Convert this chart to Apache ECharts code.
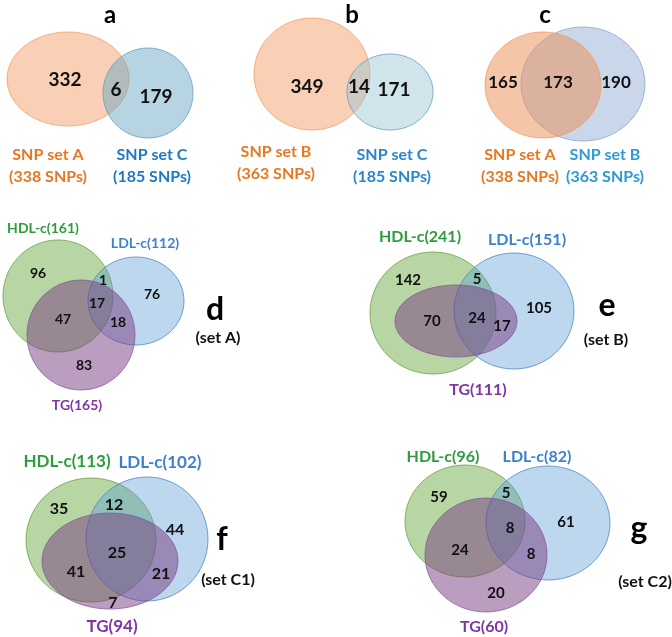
<!DOCTYPE html>
<html><head><meta charset="utf-8">
<script src="https://cdn.jsdelivr.net/npm/echarts@6/dist/echarts.min.js"></script>
<style>html,body{margin:0;padding:0;background:#fff}#c{width:672px;height:637px}</style>
</head><body><div id="c"></div>
<script>
// ---------- DATA ----------
// Two-set panels: [onlyFirst, both, onlySecond]
const aSetNames = ['SNP set A', 'SNP set C'];
const aSetSizes = [338, 185];
const aCounts = [332, 6, 179];

const bSetNames = ['SNP set B', 'SNP set C'];
const bSetSizes = [363, 185];
const bCounts = [349, 14, 171];

const cSetNames = ['SNP set A', 'SNP set B'];
const cSetSizes = [338, 363];
const cCounts = [165, 173, 190];

// Three-set panels: traits
const traitNames = ['HDL-c', 'LDL-c', 'TG'];
// region order: [H only, L only, T only, H&L, H&T, L&T, H&L&T]
const dTraitSizes = [161, 112, 165];
const dCounts = [96, 76, 83, 1, 47, 18, 17];
const eTraitSizes = [241, 151, 111];
const eCounts = [142, 105, null, 5, 70, 17, 24];
const fTraitSizes = [113, 102, 94];
const fCounts = [35, 44, 7, 12, 41, 21, 25];
const gTraitSizes = [96, 82, 60];
const gCounts = [59, 61, 20, 5, 24, 8, 8];

const panelLetters = ['a', 'b', 'c', 'd', 'e', 'f', 'g'];
const panelSubtitles = ['(set A)', '(set B)', '(set C1)', '(set C2)'];

// ---------- LAYOUT (pixel-space positions / sizes) ----------
// shapes: [cx, cy, rx, ry]
const aShapes = [[68, 79, 61, 47], [148, 93, 45, 45]];
const bShapes = [[312, 74, 58, 56], [390, 92, 43, 38]];
const cShapes = [[583, 84, 62, 57], [543, 85, 58, 53]]; // blue drawn first, orange on top
const dShapes = [[58, 296, 55, 56], [136, 301, 48, 44], [81, 335, 54, 55]];
const eShapes = [[433, 313, 63, 61], [514, 311, 60, 58], [456, 321, 61, 36]];
const fShapes = [[91, 540, 65, 62], [147, 539, 61, 62], [110, 561, 68, 48]];
const gShapes = [[465, 521, 60, 56], [548, 523, 62, 57], [486, 555, 61, 57]];

const aCountPos = [[65, 80], [116, 90], [156, 97]];
const bCountPos = [[307, 87], [359, 87], [394, 90]];
const cCountPos = [[503, 83], [558, 83], [616, 83]];
const dCountPos = [[38, 273], [152, 294], [84, 365], [103, 280], [63, 319], [118, 322], [97, 303]];
const eCountPos = [[408, 280], [539, 308], null, [477, 279], [432, 321], [502, 326], [477, 318]];
const fCountPos = [[59, 509], [175, 530], [113, 603], [114, 505], [76, 572], [161, 574], [117, 553]];
const gCountPos = [[439, 497], [566, 522], [496, 593], [506, 493], [460, 550], [531, 554], [510, 528]];

const twoLabelPos = [
  [[48, 155], [152, 155]],
  [[276, 152], [392, 155]],
  [[520, 155], [605, 155]]
];
const threeLabelPos = [
  [[43, 228], [145, 243], [77, 405]],
  [[420, 237], [527, 240], [478, 390]],
  [[67, 462], [160, 463], [112, 627]],
  [[443, 457], [537, 457], [484, 627]]
];
const letterPos = [[110, 15], [352, 15], [545, 15], [215, 310], [607, 306], [222, 540], [639, 529]];
const subtitlePos = [[218, 338], [606, 340], [228, 580], [645, 582]];

// ---------- STYLES ----------
const FONT = 'Lato, "Open Sans", sans-serif';
const orangeFill = 'rgba(244,170,120,0.55)', orangeStroke = 'rgba(240,150,90,0.7)';
const greenFill = 'rgba(112,173,71,0.5)', greenStroke = 'rgba(112,160,71,0.8)';
const blueFill = 'rgba(91,155,213,0.4)', blueStroke = 'rgba(70,130,200,0.75)';
const purpleFill = 'rgba(120,60,130,0.5)', purpleStroke = 'rgba(130,80,160,0.7)';
const twoFills = [
  [[orangeFill, orangeStroke], ['rgba(110,170,196,0.5)', 'rgba(90,150,190,0.7)']],
  [[orangeFill, orangeStroke], ['rgba(150,195,210,0.45)', 'rgba(90,150,190,0.7)']],
  [['rgba(150,175,215,0.5)', 'rgba(130,155,200,0.7)'], ['rgba(235,150,95,0.55)', orangeStroke]]
];
const threeFills = [[greenFill, greenStroke], [blueFill, blueStroke], [purpleFill, purpleStroke]];
const setLabelColors = [['#E87722', '#1E78C8'], ['#E87722', '#2A86CC'], ['#E87722', '#2B9AD6']];
const traitColors = ['#2E9B3E', '#3F7FD0', '#7D35A8'];

// ---------- BUILD ----------
const shapeData = [];   // [cx, cy, rx, ry, fill, stroke]
const textData = [];    // [x, y, text, size, color]

[[aShapes, 0], [bShapes, 1], [cShapes, 2]].forEach(([shapes, p]) => {
  shapes.forEach((s, i) => shapeData.push([s[0], s[1], s[2], s[3], twoFills[p][i][0], twoFills[p][i][1]]));
});
[dShapes, eShapes, fShapes, gShapes].forEach(shapes => {
  shapes.forEach((s, i) => shapeData.push([s[0], s[1], s[2], s[3], threeFills[i][0], threeFills[i][1]]));
});

const twoPanels = [[aSetNames, aSetSizes, aCounts, aCountPos], [bSetNames, bSetSizes, bCounts, bCountPos], [cSetNames, cSetSizes, cCounts, cCountPos]];
const twoNumSize = [19, 19, 17];
twoPanels.forEach(([names, sizes, counts, pos], p) => {
  counts.forEach((v, i) => textData.push([pos[i][0], pos[i][1], String(v), twoNumSize[p], '#111']));
  names.forEach((n, i) => {
    const lp = twoLabelPos[p][i];
    textData.push([lp[0], lp[1], n, 16, setLabelColors[p][i]]);
    textData.push([lp[0], lp[1] + 22, '(' + sizes[i] + ' SNPs)', 16, setLabelColors[p][i]]);
  });
});

const threePanels = [[dTraitSizes, dCounts, dCountPos], [eTraitSizes, eCounts, eCountPos], [fTraitSizes, fCounts, fCountPos], [gTraitSizes, gCounts, gCountPos]];
const threeNumSize = [14, 15, 16, 15];
const traitLabelSize = [14, 16, 17, 16];
threePanels.forEach(([sizes, counts, pos], p) => {
  counts.forEach((v, i) => { if (v !== null) textData.push([pos[i][0], pos[i][1], String(v), threeNumSize[p], '#111']); });
  traitNames.forEach((n, i) => {
    const lp = threeLabelPos[p][i];
    textData.push([lp[0], lp[1], n + '(' + sizes[i] + ')', traitLabelSize[p], traitColors[i]]);
  });
  const sp = subtitlePos[p];
  textData.push([sp[0], sp[1], panelSubtitles[p], 16, '#111']);
});
panelLetters.forEach((l, i) => textData.push([letterPos[i][0], letterPos[i][1], l, i < 3 ? 24 : 32, '#000']));

const chart = echarts.init(document.getElementById('c'), null, { renderer: 'canvas' });
chart.setOption({
  animation: false,
  grid: { left: 0, right: 0, top: 0, bottom: 0 },
  xAxis: { type: 'value', min: 0, max: 672, show: false },
  yAxis: { type: 'value', min: 0, max: 637, inverse: true, show: false },
  series: [
    {
      type: 'custom',
      data: shapeData,
      encode: { x: 0, y: 1 },
      renderItem: (params, api) => {
        const c = api.coord([api.value(0), api.value(1)]);
        const sz = api.size([api.value(2), api.value(3)]);
        const d = shapeData[params.dataIndex];
        return {
          type: 'ellipse',
          shape: { cx: c[0], cy: c[1], rx: sz[0], ry: sz[1] },
          style: { fill: d[4], stroke: d[5], lineWidth: 1 }
        };
      },
      z: 1
    },
    {
      type: 'custom',
      data: textData,
      encode: { x: 0, y: 1 },
      renderItem: (params, api) => {
        const c = api.coord([api.value(0), api.value(1)]);
        const d = textData[params.dataIndex];
        return {
          type: 'text',
          x: c[0], y: c[1],
          style: {
            text: d[2], fill: d[4], font: 'bold ' + d[3] + 'px ' + FONT,
            align: 'center', verticalAlign: 'middle'
          }
        };
      },
      z: 2
    }
  ]
});
</script></body></html>
